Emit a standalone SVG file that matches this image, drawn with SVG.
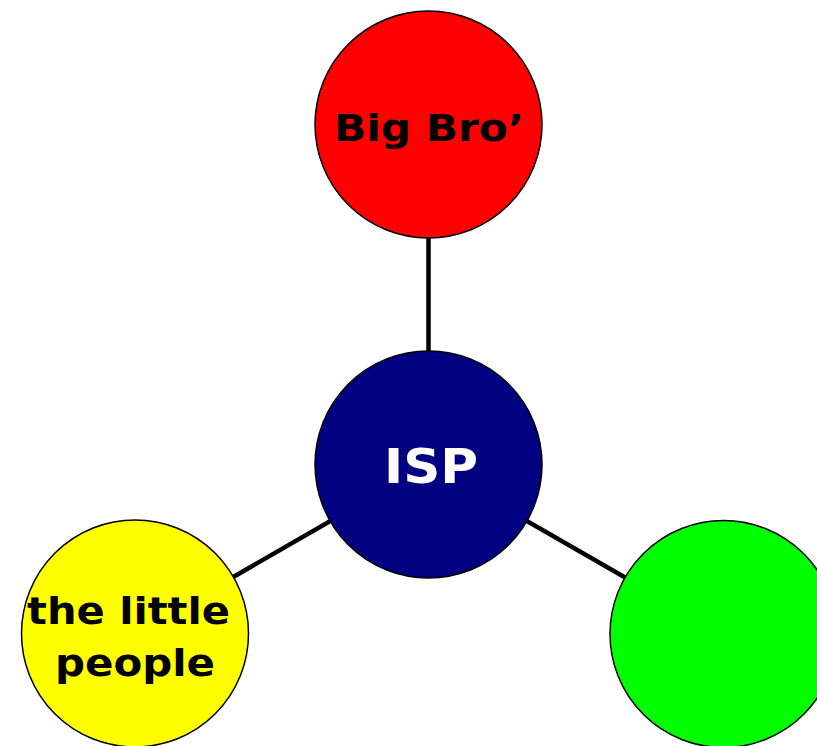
<svg xmlns="http://www.w3.org/2000/svg" width="817" height="746" viewBox="0 0 817 746">
  <style>
    .node { stroke: #000; stroke-width: 1.5; }
    .link { stroke: #000; stroke-width: 4.5; fill: none; }
    .label { font-family: "DejaVu Sans", Verdana, sans-serif; font-weight: bold; }
  </style>
  <rect width="817" height="746" fill="#fff"/>
  <g id="connectors">
    <line class="link" x1="428.5" y1="464.5" x2="428.5" y2="124.5"/>
    <line class="link" x1="428.5" y1="464.5" x2="135" y2="633.5"/>
    <line class="link" x1="428.5" y1="464.5" x2="723.5" y2="634"/>
  </g>
  <g id="big-bro">
    <circle class="node" cx="428.5" cy="124.5" r="113.5" fill="#ff0000"/>
    <text class="label" x="334" y="140.5" font-size="37.5" textLength="190" lengthAdjust="spacingAndGlyphs" fill="#000">Big Bro’</text>
  </g>
  <g id="isp">
    <circle class="node" cx="428.5" cy="464.5" r="113.5" fill="#000080"/>
    <text class="label" x="384" y="483" font-size="48" textLength="94" lengthAdjust="spacingAndGlyphs" fill="#fff">ISP</text>
  </g>
  <g id="little-people">
    <circle class="node" cx="135" cy="633.5" r="113.5" fill="#ffff00"/>
    <text class="label" x="27" y="623.5" font-size="38" textLength="203" lengthAdjust="spacingAndGlyphs" fill="#000">the little</text>
    <text class="label" x="55" y="675.5" font-size="38" textLength="160" lengthAdjust="spacingAndGlyphs" fill="#000">people</text>
  </g>
  <g id="green-node">
    <circle class="node" cx="723.5" cy="634" r="113.5" fill="#00ff00"/>
  </g>
</svg>
